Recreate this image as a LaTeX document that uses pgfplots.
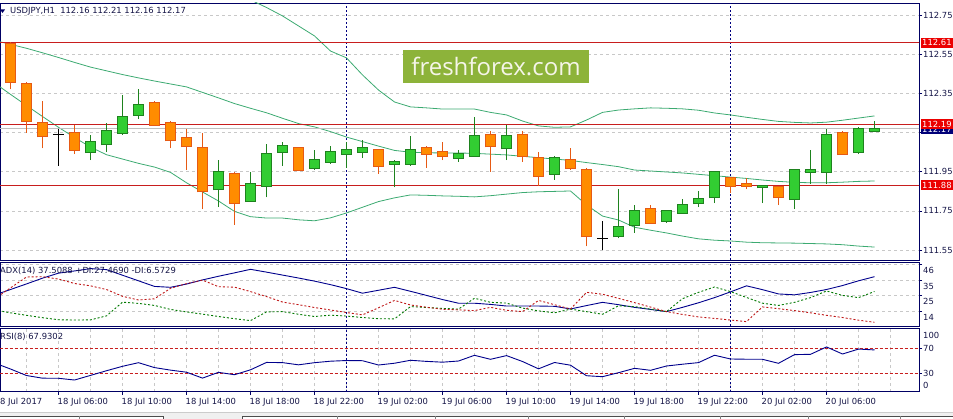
\documentclass[border=0pt]{standalone}
\usepackage{pgfplots}
\pgfplotsset{compat=1.18}
\usepackage{pgfplotstable}
\usepackage{fontspec}
\setmainfont{DejaVu Sans}
\newfontfamily\wmfont{Open Sans}
\newcommand\lbl{\fontsize{8.4pt}{10pt}\selectfont}

\definecolor{frame}{RGB}{0,0,100}
\definecolor{gridc}{RGB}{200,200,200}
\definecolor{sepc}{RGB}{0,0,128}
\definecolor{lvl}{RGB}{200,30,30}
\definecolor{bb}{RGB}{60,170,113}
\definecolor{bullF}{RGB}{50,205,50}
\definecolor{bullE}{RGB}{30,130,30}
\definecolor{bearF}{RGB}{255,140,0}
\definecolor{bearE}{RGB}{230,90,20}
\definecolor{adxc}{RGB}{0,0,140}
\definecolor{pdi}{RGB}{0,120,0}
\definecolor{mdi}{RGB}{190,20,20}
\definecolor{boxred}{RGB}{235,0,0}
\definecolor{boxnavy}{RGB}{0,0,120}
\definecolor{wm}{RGB}{141,179,58}
\definecolor{txt}{RGB}{20,20,70}

% USDJPY H1 candles, bar index 0 = 18 Jul 03:00
\pgfplotstableread{
k  O      H      L      C
5  112.05 112.14 112.01 112.10
6  112.09 112.20 112.05 112.16
7  112.15 112.34 112.14 112.23
8  112.24 112.37 112.22 112.29
13 111.86 112.01 111.77 111.95
15 111.80 111.95 111.80 111.89
16 111.88 112.09 111.82 112.04
17 112.05 112.10 111.98 112.08
19 111.97 112.06 111.96 112.01
20 112.00 112.08 111.99 112.05
21 112.04 112.10 111.97 112.06
22 112.05 112.11 112.02 112.07
24 111.99 112.01 111.87 112.00
25 111.99 112.13 111.98 112.06
28 112.02 112.06 112.00 112.04
29 112.03 112.23 112.03 112.13
31 112.07 112.19 112.01 112.13
34 111.94 112.03 111.91 112.02
38 111.62 111.86 111.61 111.67
39 111.68 111.78 111.64 111.75
41 111.70 111.75 111.69 111.75
42 111.74 111.81 111.74 111.78
43 111.79 111.85 111.77 111.81
44 111.82 111.95 111.79 111.95
47 111.87 111.88 111.79 111.88
49 111.81 111.96 111.76 111.96
50 111.95 112.06 111.89 111.96
51 111.95 112.17 111.89 112.14
53 112.05 112.18 112.04 112.17
54 112.16 112.21 112.16 112.17
}\bull

\pgfplotstableread{
k  O      H      L      C
0  112.60 112.61 112.37 112.41
1  112.40 112.41 112.15 112.21
2  112.20 112.31 112.07 112.13
4  112.15 112.19 112.04 112.06
9  112.30 112.31 112.19 112.19
10 112.20 112.21 112.07 112.11
11 112.12 112.17 111.96 112.08
12 112.07 112.15 111.76 111.85
14 111.94 111.95 111.68 111.79
18 112.07 112.07 111.96 111.96
23 112.06 112.06 111.94 111.98
26 112.07 112.08 111.97 112.04
27 112.05 112.10 112.01 112.03
30 112.14 112.16 111.95 112.08
32 112.14 112.16 112.00 112.03
33 112.02 112.05 111.88 111.93
35 112.01 112.07 111.96 111.97
36 111.96 111.97 111.57 111.62
40 111.76 111.78 111.69 111.69
45 111.92 111.92 111.84 111.88
46 111.89 111.92 111.86 111.88
48 111.87 111.88 111.78 111.82
52 112.15 112.16 112.04 112.04
}\bear

\pgfplotstableread{
k  O      H      L      C
3  112.14 112.17 111.98 112.14
37 111.61 111.70 111.55 111.61
}\doji

% Bollinger bands
\pgfplotstableread{
k  mid     up      lo
-1 112.620 112.837 112.403
0  112.600 112.855 112.345
1  112.580 112.872 112.288
2  112.557 112.882 112.232
3  112.533 112.889 112.177
4  112.508 112.891 112.125
5  112.484 112.892 112.076
6  112.465 112.893 112.037
7  112.446 112.877 112.015
8  112.429 112.865 111.993
9  112.413 112.852 111.974
10 112.398 112.849 111.947
11 112.383 112.872 111.894
12 112.355 112.863 111.847
13 112.327 112.853 111.801
14 112.298 112.848 111.748
15 112.274 112.827 111.721
16 112.251 112.788 111.714
17 112.223 112.745 111.714
18 112.196 112.694 111.705
19 112.179 112.643 111.700
20 112.155 112.566 111.715
21 112.127 112.531 111.740
22 112.104 112.444 111.769
23 112.081 112.367 111.798
24 112.059 112.306 111.817
25 112.050 112.281 111.832
26 112.047 112.276 111.830
27 112.046 112.270 111.827
28 112.046 112.270 111.825
29 112.044 112.270 111.822
30 112.040 112.253 111.828
31 112.036 112.240 111.836
32 112.029 112.209 111.844
33 112.022 112.184 111.848
34 112.015 112.177 111.850
35 112.008 112.179 111.852
36 111.997 112.214 111.781
37 111.987 112.253 111.724
38 111.976 112.265 111.704
39 111.959 112.271 111.667
40 111.954 112.276 111.652
41 111.949 112.274 111.638
42 111.944 112.271 111.622
43 111.937 112.264 111.608
44 111.930 112.250 111.601
45 111.923 112.240 111.597
46 111.916 112.228 111.591
47 111.908 112.217 111.588
48 111.901 112.207 111.587
49 111.896 112.202 111.586
50 111.894 112.199 111.584
51 111.894 112.203 111.582
52 111.897 112.213 111.578
53 111.901 112.224 111.571
54 111.903 112.235 111.566
}\boll

% ADX(14), +DI, -DI and RSI(8)
\pgfplotstableread{
k  adx   pdi   mdi   rsi
-1 25.1  14.9  22.4  46.7
0  28.8  13.0  29.9  36.9
1  32.6  11.3  37.3  26.3
2  36.5  9.7   37.5  22.0
3  39.9  8.3   35.9  21.8
4  41.4  8.1   32.9  19.0
5  43.0  8.2   31.3  26.5
6  42.3  10.9  28.8  34.1
7  38.5  20.2  24.2  41.3
8  34.7  19.4  21.7  47.2
9  30.9  18.0  22.5  39.2
10 30.3  15.3  29.6  35.1
11 32.5  13.6  32.8  31.7
12 35.3  12.1  35.2  22.1
13 37.8  10.5  30.7  31.5
14 40.1  9.0   30.4  27.6
15 42.5  7.7   27.4  35.6
16 40.6  13.6  24.0  47.6
17 38.6  13.8  20.3  47.3
18 36.6  12.0  18.5  43.7
19 34.5  10.5  16.6  47.2
20 32.1  11.4  14.9  49.6
21 29.4  10.8  13.2  50.7
22 26.3  9.8   11.6  50.4
23 28.3  9.0   16.4  43.4
24 30.3  8.9   21.4  46.3
25 27.6  17.2  18.3  51.1
26 24.8  16.6  16.8  49.3
27 22.0  16.0  15.4  48.0
28 19.5  15.5  15.0  49.9
29 19.5  22.9  14.5  59.2
30 18.7  20.1  16.7  52.7
31 17.6  19.6  14.7  58.7
32 17.6  16.2  13.8  49.1
33 17.6  14.3  21.4  37.2
34 17.4  13.0  18.5  47.5
35 15.6  15.5  15.6  43.1
36 17.9  13.8  26.9  26.0
37 20.1  12.0  25.6  24.4
38 18.5  17.8  22.8  30.9
39 16.7  17.2  19.9  38.0
40 15.3  15.5  16.9  34.8
41 13.8  13.8  13.8  41.8
42 16.7  22.6  11.9  44.7
43 19.8  26.9  10.2  47.3
44 23.3  30.5  9.2   59.3
45 27.2  27.4  8.1   53.2
46 31.3  23.4  7.0   52.8
47 28.7  19.5  17.0  52.7
48 25.8  18.0  15.8  46.2
49 25.2  20.1  14.5  60.3
50 26.8  23.3  13.0  60.8
51 28.8  27.8  11.3  72.8
52 31.5  24.8  9.8   61.3
53 34.7  23.3  8.0   69.3
54 37.51 27.47 6.57  67.93
}\ind

\pgfplotsset{
  panel/.style={
    scale only axis, width=919pt,
    xmin=-0.65625, xmax=56.78125,
    no markers,
    axis line style={draw=frame, line width=0.9pt},
    tick align=outside, major tick length=3pt, minor tick length=0pt,
    tick style={draw=frame, line width=0.8pt},
    ytick pos=right, yticklabel pos=right, xtick pos=bottom,
    tick label style={font=\lbl, text=txt},
    yticklabel style={inner sep=1pt},
    minor xtick={1,3,...,55}, xminorgrids=true,
    minor grid style={gridc, dash pattern=on 3pt off 3pt, line width=0.8pt},
    major grid style={gridc, dash pattern=on 3pt off 3pt, line width=0.8pt},
    extra x ticks={21,45}, extra x tick labels={},
    extra x tick style={xmajorgrids=true, major tick length=0pt,
      major grid style={sepc, dash pattern=on 2pt off 2pt, line width=0.9pt}},
  },
  % a vertical segment from the plotted y up by the y error
  vbar/.style n args={2}{draw=none, mark=none, forget plot,
    error bars/.cd, y dir=plus, y explicit, error mark=none,
    error bar style={draw=#1, solid, line width=#2}},
  vbody/.style n args={2}{draw=none, mark=none, forget plot,
    error bars/.cd, y dir=plus, y explicit, error mark=none,
    error bar style={draw=#1, solid, line width=#2, shorten <=-1pt, shorten >=-1pt}},
}

\begin{document}
\begin{tikzpicture}

% ---- price window
\begin{axis}[panel, at={(0pt,-3pt)}, anchor=north west, height=257pt,
    ymin=111.5, ymax=112.811,
    xtick=\empty,
    ytick={111.55,111.75,111.95,112.15,112.35,112.55,112.75},
    yticklabels={111.55,111.75,111.95,,112.35,112.55,112.75},
    ymajorgrids=true]
  \addplot[bb, line width=0.8pt] table[x=k, y=up]  {\boll};
  \addplot[bb, line width=0.8pt] table[x=k, y=mid] {\boll};
  \addplot[bb, line width=0.8pt] table[x=k, y=lo]  {\boll};
  \addplot[black!25, line width=1pt] coordinates {(-1,112.17) (57,112.17)};
  \addplot[lvl, line width=1pt] coordinates {(-1,112.61) (57,112.61)};
  \addplot[lvl, line width=1pt] coordinates {(-1,112.19) (57,112.19)};
  \addplot[lvl, line width=1pt] coordinates {(-1,111.88) (57,111.88)};
  % wicks
  \addplot[vbar={bullE}{1pt}] table[x=k, y=L, y error expr=\thisrow{H}-\thisrow{L}] {\bull};
  \addplot[vbar={bearE}{1pt}] table[x=k, y=L, y error expr=\thisrow{H}-\thisrow{L}] {\bear};
  \addplot[vbar={black}{1pt}] table[x=k, y=L, y error expr=\thisrow{H}-\thisrow{L}] {\doji};
  % bodies: outline then fill
  \addplot[vbody={bullE}{11pt}] table[x=k, y=O, y error expr=\thisrow{C}-\thisrow{O}] {\bull};
  \addplot[vbar={bullF}{9pt}]   table[x=k, y=O, y error expr=\thisrow{C}-\thisrow{O}] {\bull};
  \addplot[vbody={bearE}{11pt}] table[x=k, y=C, y error expr=\thisrow{O}-\thisrow{C}] {\bear};
  \addplot[vbar={bearF}{9pt}]   table[x=k, y=C, y error expr=\thisrow{O}-\thisrow{C}] {\bear};
  % doji: horizontal stroke at the open
  \addplot[draw=none, mark=none, forget plot,
    error bars/.cd, x dir=both, x fixed=0.34, error mark=none,
    error bar style={draw=black, solid, line width=1pt}]
    table[x=k, y=O] {\doji};
\end{axis}

% ---- ADX window
\begin{axis}[panel, at={(0pt,-262pt)}, anchor=north west, height=64pt,
    ymin=4.05, ymax=47.47,
    xtick=\empty,
    ytick={14,25,35,46}, yticklabels={14,25,35,46},
    yticklabel style={yshift=-6pt},
    ymajorgrids=true]
  \addplot[adxc, line width=0.9pt] table[x=k, y=adx] {\ind};
  \addplot[pdi, line width=0.9pt, dash pattern=on 2pt off 2pt] table[x=k, y=pdi] {\ind};
  \addplot[mdi, line width=0.9pt, dash pattern=on 2pt off 2pt] table[x=k, y=mdi] {\ind};
\end{axis}

% ---- RSI window
\begin{axis}[panel, at={(0pt,-328pt)}, anchor=north west, height=63.7pt,
    ymin=0, ymax=103.6,
    ytick={30,70}, yticklabels={30,70},
    xtick={3,7,...,51}, xmajorgrids=true,
    xticklabels={18 Jul 06:00,18 Jul 10:00,18 Jul 14:00,18 Jul 18:00,18 Jul 22:00,
      19 Jul 02:00,19 Jul 06:00,19 Jul 10:00,19 Jul 14:00,19 Jul 18:00,19 Jul 22:00,
      20 Jul 02:00,20 Jul 06:00},
    xticklabel style={anchor=north west, inner sep=0pt, xshift=-1pt, yshift=-3pt}]
  \addplot[lvl, line width=0.9pt, dash pattern=on 3pt off 2pt] coordinates {(-1,70) (57,70)};
  \addplot[lvl, line width=0.9pt, dash pattern=on 3pt off 2pt] coordinates {(-1,30) (57,30)};
  \addplot[adxc, line width=0.9pt] table[x=k, y=rsi] {\ind};
\end{axis}

% ---- window captions and labels
\fill[frame] (0pt,-9.5pt) -- (5pt,-9.5pt) -- (2.5pt,-13pt) -- cycle;
\node[font=\lbl, text=txt, anchor=west, inner sep=0pt] at (10pt,-11.7pt)
  {USDJPY,H1\ \ 112.16 112.21 112.16 112.17};
\node[font=\lbl, text=txt, anchor=west, inner sep=0pt] at (0pt,-271pt)
  {ADX(14) 37.5088 +DI:27.4690 -DI:6.5729};
\node[font=\lbl, text=txt, anchor=west, inner sep=0pt] at (0pt,-337.3pt)
  {RSI(8) 67.9302};
\node[font=\lbl, text=txt, anchor=west, inner sep=0pt] at (923pt,-335pt) {100};
\node[font=\lbl, text=txt, anchor=west, inner sep=0pt] at (923pt,-385.7pt) {0};
\node[font=\lbl, text=txt, anchor=north west, inner sep=0pt] at (-5.5pt,-397.5pt) {18 Jul 2017};

% price tags on the right scale
\fill[boxnavy] (921pt,-124.5pt) rectangle (960pt,-134pt);
\node[font=\lbl, text=white, anchor=west, inner sep=0pt] at (922pt,-129.6pt) {112.17};
\fill[boxred] (921pt,-37.7pt) rectangle (960pt,-47.7pt);
\node[font=\lbl, text=white, anchor=west, inner sep=0pt] at (922pt,-42.7pt) {112.61};
\fill[boxred] (921pt,-119pt) rectangle (960pt,-129pt);
\node[font=\lbl, text=white, anchor=west, inner sep=0pt] at (922pt,-124pt) {112.19};
\fill[boxred] (921pt,-180pt) rectangle (960pt,-190pt);
\node[font=\lbl, text=white, anchor=west, inner sep=0pt] at (922pt,-185pt) {111.88};

% watermark
\fill[wm] (403pt,-50pt) rectangle (589pt,-83pt);
\node[text={rgb,255:red,245;green,245;blue,232}, inner sep=0pt]
  at (496pt,-66.5pt) {\wmfont\fontsize{24pt}{28pt}\selectfont freshforex.com};

% terminal tab strip at the bottom
\fill[black!6] (0pt,-412pt) rectangle (953pt,-419pt);
\draw[black!20] (0pt,-412.5pt) -- (953pt,-412.5pt);
\filldraw[fill=white, draw=black!70] (-2pt,-415.7pt) rectangle (163pt,-425pt);
\filldraw[fill=white, draw=black!70] (242pt,-415.7pt) rectangle (960pt,-425pt);
\foreach \x in {79,337,435,528,624,720,808,900}
  \draw[black!50] (\x pt,-416pt) -- (\x pt,-419pt);

\pgfresetboundingbox
\useasboundingbox (0pt,0pt) rectangle (953pt,-419pt);
\end{tikzpicture}
\end{document}
